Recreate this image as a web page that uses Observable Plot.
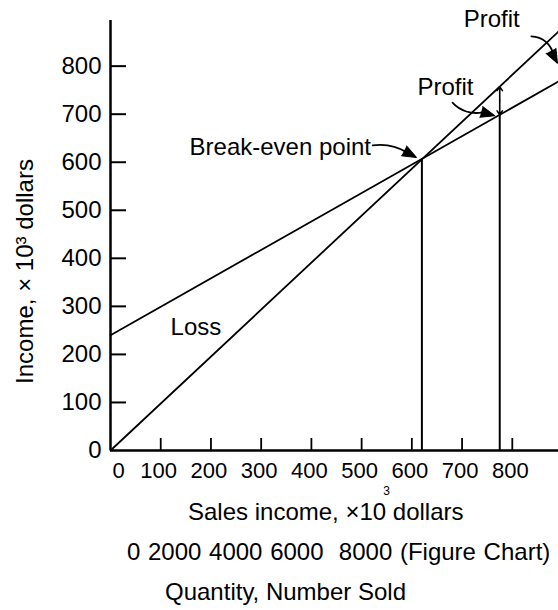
<!DOCTYPE html>
<html>
<head>
<meta charset="utf-8">
<script src="https://cdn.jsdelivr.net/npm/d3@7"></script>
<script src="https://cdn.jsdelivr.net/npm/@observablehq/plot@0.6"></script>
<style>
  body { margin: 0; background: #fff; font-family: "Liberation Sans", Arial, sans-serif; color: #000; }
  #chart svg { display: block; }
  #cap { font-size: 24px; line-height: 40px; padding-top: 7px; }
  #cap div { height: 40px; white-space: pre; }
  .sup { display: inline-block; width: 0; position: relative; top: -25px; left: -3px; font-size: 12px; line-height: 12px; }
</style>
</head>
<body>
<div id="chart"></div>
<div id="cap"><div style="padding-left:188px">Sales income, ×10<span class="sup">3</span> dollars</div><div style="padding-left:127px;word-spacing:1px">0 2000 4000 6000  8000 (Figure Chart)</div><div style="padding-left:165px">Quantity, Number Sold</div></div>
<script>
// ---- data ----
const xTicks = [0, 100, 200, 300, 400, 500, 600, 700, 800];
const yTicks = [0, 100, 200, 300, 400, 500, 600, 700, 800];
const salesLine = [{x: 0, y: 0}, {x: 892, y: 872}];        // income = sales
const costLine  = [{x: 0, y: 240}, {x: 892, y: 768}];      // total cost
const breakEven = [{x: 620, y: 606}];
const profitMark = [{x: 775, low: 699, high: 757}];
const textLabels = [
  {text: "Break-even point", x: 338, y: 631},
  {text: "Loss", x: 170, y: 256},
  {text: "Profit", x: 667, y: 755},
  {text: "Profit", x: 759, y: 897}
];
// curved pointer arrows: start, head base, tip (data units)
const pointers = [
  {x1: 522, y1: 635, bx: 591, by: 620, tx: 609, ty: 610},
  {x1: 681, y1: 724, bx: 741, by: 704, tx: 765, ty: 697},
  {x1: 838, y1: 862, bx: 882, by: 822, tx: 890, ty: 806}
];
const pointerBends = [20, -30, 40];
const yTitle = "Income, × 10³ dollars";

// ---- layout ----
const W = 558, H = 485, mL = 110, mR = 0, mT = 20, mB = 35;
const xDomain = [0, 892], yDomain = [0, 895];
const xs = Plot.scale({x: {domain: xDomain, range: [mL, W - mR]}});
const ys = Plot.scale({y: {domain: yDomain, range: [H - mB, mT]}});
const headRotate = (d) => {
  const dx = xs.apply(d.tx) - xs.apply(d.bx);
  const dy = ys.apply(d.ty) - ys.apply(d.by);
  return Math.atan2(dy, dx) * 180 / Math.PI + 90;
};
const font = "'Liberation Sans', Arial, sans-serif";

const marks = [
  // axes lines
  Plot.ruleX([0], {stroke: "black", strokeWidth: 2.5}),
  Plot.ruleY([0], {stroke: "black", strokeWidth: 2.5}),
  // inward ticks
  Plot.axisY({ticks: yTicks.slice(1), anchor: "left", tickSize: -16, tickFormat: () => "", strokeWidth: 2, label: null}),
  Plot.axisX({ticks: xTicks.slice(1), anchor: "bottom", tickSize: -12, tickFormat: () => "", strokeWidth: 1.8, label: null}),
  // tick labels
  Plot.axisY({ticks: yTicks, anchor: "left", tickSize: 0, tickPadding: 9, fontSize: 24, label: null}),
  Plot.axisX({ticks: xTicks.slice(1), anchor: "bottom", tickSize: 0, tickPadding: 12, fontSize: 22, dx: -2, label: null}),
  Plot.axisX({ticks: xTicks.slice(0, 1), anchor: "bottom", tickSize: 0, tickPadding: 12, fontSize: 22, dx: 8, label: null}),
  // lines
  Plot.line(salesLine, {x: "x", y: "y", stroke: "black", strokeWidth: 1.8}),
  Plot.line(costLine, {x: "x", y: "y", stroke: "black", strokeWidth: 1.8}),
  // verticals
  Plot.ruleX(breakEven, {x: "x", y1: 0, y2: "y", stroke: "black", strokeWidth: 2}),
  Plot.ruleX(profitMark, {x: "x", y1: 0, y2: "low", stroke: "black", strokeWidth: 2}),
  Plot.arrow(profitMark, {x1: "x", x2: "x", y1: (d) => (d.low + d.high) / 2, y2: "high", stroke: "black", strokeWidth: 1.6, headLength: 7, headAngle: 70}),
  Plot.arrow(profitMark, {x1: "x", x2: "x", y1: (d) => (d.low + d.high) / 2, y2: "low", stroke: "black", strokeWidth: 1.6, headLength: 7, headAngle: 70}),
  // curved pointers
  ...pointers.map((p, i) => Plot.arrow([p], {x1: "x1", y1: "y1", x2: "bx", y2: "by", bend: pointerBends[i], headLength: 0, stroke: "black", strokeWidth: 1.8})),
  Plot.vector(pointers, {x: "tx", y: "ty", rotate: headRotate, length: 14, r: 5.5, anchor: "end", shape: "spike", fill: "black", stroke: "black", strokeWidth: 1}),
  // text
  Plot.text(textLabels, {x: "x", y: "y", text: "text", fontSize: 24, fill: "black"}),
  Plot.text([yTitle], {frameAnchor: "left", textAnchor: "middle", rotate: -90, dx: -85, dy: 36, fontSize: 24, fill: "black"})
];

const chart = Plot.plot({
  width: W, height: H,
  marginLeft: mL, marginRight: mR, marginTop: mT, marginBottom: mB,
  x: {domain: xDomain, axis: null},
  y: {domain: yDomain, axis: null},
  style: {fontFamily: font, color: "black", background: "white", overflow: "visible"},
  marks
});
document.getElementById("chart").appendChild(chart);
</script>
</body>
</html>
